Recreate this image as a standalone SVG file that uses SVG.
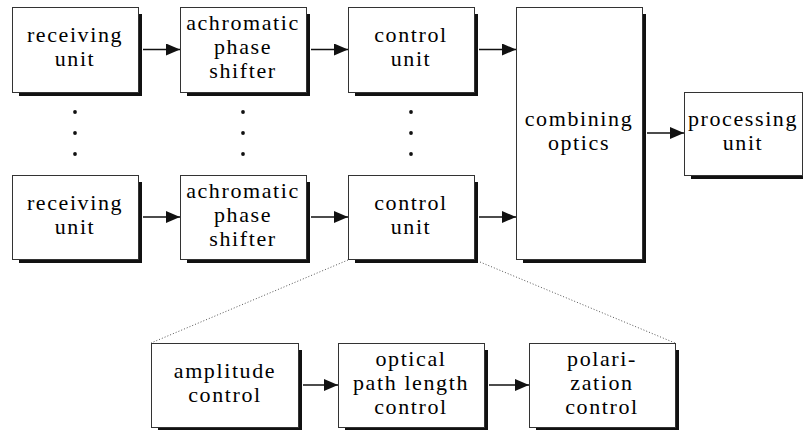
<svg xmlns="http://www.w3.org/2000/svg" width="803" height="430" viewBox="0 0 803 430">
<style>
.box{fill:#fff;stroke:#333;stroke-width:1}
.sh{fill:#111}
.t{font-family:"Liberation Serif","Times New Roman",Times,serif;font-size:22px;letter-spacing:1.6px;fill:#000;text-anchor:middle}
.ar{stroke:#111;stroke-width:1.6;fill:none;marker-end:url(#ah)}
.dot{fill:#111}
.dl{stroke:#555;stroke-width:1;stroke-dasharray:1 2;fill:none}
</style>
<defs>
<marker id="ah" markerUnits="userSpaceOnUse" markerWidth="15" markerHeight="13" refX="14" refY="6" orient="auto">
<path d="M0,0 L14,6 L0,12 z" fill="#111"/>
</marker>
</defs>
<rect width="803" height="430" fill="#fff"/>
<g id="connectors">
<line class="ar" x1="143" y1="49.5" x2="180" y2="49.5"/>
<line class="ar" x1="311" y1="49.5" x2="348" y2="49.5"/>
<line class="ar" x1="479" y1="49.5" x2="516" y2="49.5"/>
<line class="ar" x1="143" y1="217" x2="180" y2="217"/>
<line class="ar" x1="311" y1="217" x2="348" y2="217"/>
<line class="ar" x1="479" y1="217" x2="516" y2="217"/>
<line class="ar" x1="647" y1="133" x2="684" y2="133"/>
<line class="ar" x1="303" y1="385" x2="338" y2="385"/>
<line class="ar" x1="489" y1="385" x2="529" y2="385"/>
<line class="dl" x1="348" y1="260" x2="151" y2="343"/>
<line class="dl" x1="480" y1="262" x2="675" y2="343"/>
</g>
<g id="dots">
<circle class="dot" cx="75" cy="112" r="1.9"/><circle class="dot" cx="75" cy="133" r="1.9"/><circle class="dot" cx="75" cy="154" r="1.9"/>
<circle class="dot" cx="243" cy="112" r="1.9"/><circle class="dot" cx="243" cy="133" r="1.9"/><circle class="dot" cx="243" cy="154" r="1.9"/>
<circle class="dot" cx="411" cy="112" r="1.9"/><circle class="dot" cx="411" cy="133" r="1.9"/><circle class="dot" cx="411" cy="154" r="1.9"/>
</g>
<g id="receiving1">
<rect class="sh" x="19" y="14" width="123" height="82"/>
<rect class="box" x="12.5" y="7.5" width="126" height="85"/>
<text class="t" x="75" y="42">receiving</text>
<text class="t" x="75" y="66">unit</text>
</g>
<g id="shifter1">
<rect class="sh" x="187" y="14" width="123" height="82"/>
<rect class="box" x="180.5" y="7.5" width="126" height="85"/>
<text class="t" x="243" y="30">achromatic</text>
<text class="t" x="243" y="54">phase</text>
<text class="t" x="243" y="78">shifter</text>
</g>
<g id="control1">
<rect class="sh" x="355" y="14" width="123" height="82"/>
<rect class="box" x="348.5" y="7.5" width="126" height="85"/>
<text class="t" x="411" y="42">control</text>
<text class="t" x="411" y="66">unit</text>
</g>
<g id="receiving2">
<rect class="sh" x="19" y="182" width="123" height="81"/>
<rect class="box" x="12.5" y="175.5" width="126" height="84"/>
<text class="t" x="75" y="210">receiving</text>
<text class="t" x="75" y="234">unit</text>
</g>
<g id="shifter2">
<rect class="sh" x="187" y="182" width="123" height="81"/>
<rect class="box" x="180.5" y="175.5" width="126" height="84"/>
<text class="t" x="243" y="198">achromatic</text>
<text class="t" x="243" y="222">phase</text>
<text class="t" x="243" y="246">shifter</text>
</g>
<g id="control2">
<rect class="sh" x="355" y="182" width="123" height="81"/>
<rect class="box" x="348.5" y="175.5" width="126" height="84"/>
<text class="t" x="411" y="210">control</text>
<text class="t" x="411" y="234">unit</text>
</g>
<g id="combining">
<rect class="sh" x="523" y="14" width="123" height="249"/>
<rect class="box" x="516.5" y="7.5" width="126" height="252"/>
<text class="t" x="579" y="125.5">combining</text>
<text class="t" x="579" y="149.5">optics</text>
</g>
<g id="processing">
<rect class="sh" x="691" y="99" width="118" height="80"/>
<rect class="box" x="684.5" y="92.5" width="118" height="83"/>
<text class="t" x="743" y="126">processing</text>
<text class="t" x="743" y="150">unit</text>
</g>
<g id="amplitude">
<rect class="sh" x="158" y="350" width="144" height="81"/>
<rect class="box" x="151.5" y="343.5" width="147" height="84"/>
<text class="t" x="225" y="377.5">amplitude</text>
<text class="t" x="225" y="401.5">control</text>
</g>
<g id="optical">
<rect class="sh" x="345" y="350" width="143" height="81"/>
<rect class="box" x="338.5" y="343.5" width="146" height="84"/>
<text class="t" x="411" y="366">optical</text>
<text class="t" x="411" y="390">path length</text>
<text class="t" x="411" y="414">control</text>
</g>
<g id="polarization">
<rect class="sh" x="536" y="350" width="143" height="81"/>
<rect class="box" x="529.5" y="343.5" width="146" height="84"/>
<text class="t" x="602" y="366">polari-</text>
<text class="t" x="602" y="390">zation</text>
<text class="t" x="602" y="414">control</text>
</g>
</svg>
